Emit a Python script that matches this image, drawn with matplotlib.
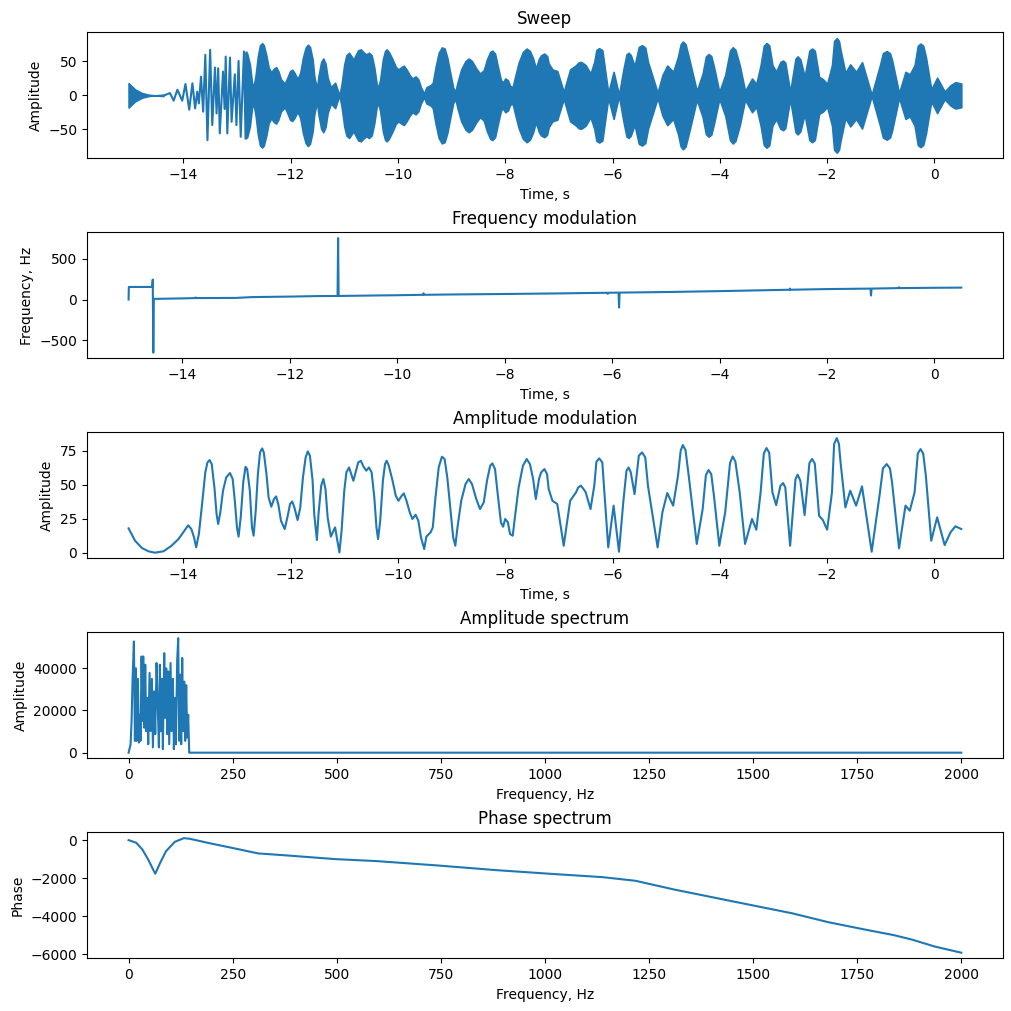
import numpy as np
import matplotlib
matplotlib.use("Agg")
import matplotlib.pyplot as plt

am_t = [-15.02, -14.90, -14.77, -14.65, -14.53, -14.37, -14.22, -14.09, -13.98, -13.91,
        -13.85, -13.80, -13.76, -13.71, -13.65, -13.59, -13.55, -13.51, -13.47, -13.42,
        -13.38, -13.35, -13.31, -13.26, -13.20, -13.13, -13.08, -13.04, -13.00, -12.97,
        -12.93, -12.88, -12.84, -12.81, -12.76, -12.72, -12.69, -12.65, -12.61, -12.57,
        -12.53, -12.50, -12.45, -12.41, -12.36, -12.31, -12.27, -12.23, -12.18, -12.11,
        -12.06, -12.01, -11.97, -11.93, -11.87, -11.82, -11.77, -11.72, -11.68, -11.64,
        -11.59, -11.56, -11.51, -11.48, -11.43, -11.39, -11.35, -11.31, -11.25, -11.20,
        -11.17, -11.14, -11.09, -11.05, -11.00, -10.96, -10.91, -10.87, -10.83, -10.78,
        -10.74, -10.69, -10.64, -10.59, -10.54, -10.49, -10.44, -10.40, -10.37, -10.33,
        -10.28, -10.24, -10.21, -10.17, -10.10, -10.04, -9.99, -9.93, -9.89, -9.84,
        -9.78, -9.73, -9.67, -9.62, -9.57, -9.51, -9.47, -9.39, -9.35, -9.30,
        -9.24, -9.18, -9.13, -9.08, -9.02, -8.97, -8.93, -8.89, -8.82, -8.74,
        -8.68, -8.62, -8.54, -8.47, -8.40, -8.34, -8.28, -8.24, -8.19, -8.14,
        -8.08, -8.04, -8.00, -7.95, -7.91, -7.86, -7.82, -7.75, -7.67, -7.60,
        -7.54, -7.48, -7.43, -7.37, -7.33, -7.27, -7.22, -7.19, -7.12, -7.03,
        -6.91, -6.79, -6.68, -6.64, -6.59, -6.54, -6.50, -6.41, -6.34, -6.30,
        -6.25, -6.19, -6.16, -6.08, -5.98, -5.88, -5.80, -5.74, -5.70, -5.66,
        -5.59, -5.51, -5.45, -5.39, -5.34, -5.16, -5.07, -4.98, -4.87, -4.78,
        -4.73, -4.69, -4.64, -4.58, -4.43, -4.32, -4.26, -4.21, -4.16, -4.11,
        -4.01, -3.90, -3.81, -3.76, -3.71, -3.63, -3.53, -3.40, -3.32, -3.24,
        -3.18, -3.13, -3.08, -3.02, -2.95, -2.87, -2.82, -2.78, -2.69, -2.59,
        -2.55, -2.50, -2.42, -2.33, -2.28, -2.23, -2.15, -2.08, -2.00, -1.91,
        -1.87, -1.82, -1.78, -1.75, -1.66, -1.57, -1.46, -1.35, -1.17, -1.02,
        -0.96, -0.89, -0.83, -0.79, -0.66, -0.54, -0.46, -0.37, -0.31, -0.26,
        -0.21, -0.16, -0.06, 0.05, 0.19, 0.30, 0.39, 0.50]
am_v = [17.9, 8.8, 3.4, 1.0, 0.0, 1.0, 5.1, 10.0, 16.2, 20.1,
        17.4, 11.3, 3.9, 13.7, 35.8, 59.1, 66.4, 68.1, 65.2, 48.0,
        28.4, 21.1, 29.7, 45.6, 55.4, 58.6, 54.2, 38.2, 18.6, 11.8,
        26.0, 52.9, 63.2, 61.5, 45.6, 18.6, 12.5, 30.9, 57.8, 73.8,
        76.7, 73.8, 57.8, 40.7, 33.8, 39.5, 41.4, 35.8, 23.5, 17.4,
        26.0, 35.8, 37.7, 33.3, 24.0, 33.3, 55.4, 70.1, 74.5, 71.3,
        52.9, 28.4, 9.3, 28.4, 49.3, 54.2, 46.8, 26.0, 11.8, 16.2,
        18.6, 11.3, 0.2, 16.2, 45.6, 59.1, 62.7, 57.8, 52.9, 60.3,
        66.4, 67.6, 63.2, 60.3, 62.7, 59.1, 40.7, 18.6, 10.0, 23.5,
        52.9, 65.2, 67.6, 64.0, 52.9, 41.9, 38.2, 41.9, 43.6, 38.2,
        29.7, 24.8, 27.9, 23.5, 11.3, 2.7, 11.8, 15.0, 18.6, 40.7,
        62.7, 70.6, 68.9, 55.4, 30.9, 11.3, 5.1, 18.6, 38.2, 50.5,
        54.2, 50.5, 39.5, 32.1, 37.0, 52.9, 64.0, 65.7, 61.5, 43.1,
        22.3, 19.1, 24.8, 22.3, 13.7, 12.5, 26.0, 48.0, 64.0, 68.9,
        65.2, 54.2, 39.5, 54.2, 59.1, 61.5, 57.8, 46.8, 38.2, 35.8,
        5.1, 38.2, 44.4, 48.0, 49.3, 46.8, 44.4, 32.1, 49.3, 66.9,
        69.4, 66.4, 49.0, 3.9, 34.6, 0.7, 37.0, 60.3, 62.7, 59.1,
        43.1, 71.3, 73.8, 70.1, 49.3, 3.9, 29.7, 43.9, 34.6, 56.6,
        75.0, 79.2, 75.5, 56.6, 6.4, 32.1, 57.0, 60.8, 57.8, 41.9,
        5.1, 29.7, 66.0, 70.8, 67.0, 44.4, 6.4, 24.8, 16.9, 44.4,
        73.0, 77.0, 73.5, 44.4, 35.0, 49.3, 51.2, 48.0, 5.1, 54.0,
        57.4, 53.0, 27.7, 66.0, 68.9, 65.5, 27.2, 24.0, 16.9, 44.4,
        80.0, 84.3, 80.0, 66.4, 33.3, 45.6, 34.6, 48.8, 0.7, 43.1,
        62.0, 65.2, 62.0, 51.7, 3.2, 34.6, 30.9, 44.4, 73.0, 76.2,
        73.0, 56.6, 8.8, 26.0, 5.6, 15.0, 19.4, 17.4]

# individual swings of the sweep where the carrier is still slow
sweep_early_t = [-14.34, -14.25, -14.18, -14.11, -14.02, -13.96, -13.89, -13.83, -13.78, -13.74,
                 -13.71, -13.67, -13.63, -13.59, -13.55, -13.50, -13.46, -13.41, -13.38, -13.35,
                 -13.32, -13.26, -13.23, -13.21, -13.18, -13.13, -13.10, -13.04, -13.01, -12.97,
                 -12.93, -12.87, -12.84, -12.82]
sweep_early_v = [0.5, 3.4, -7.8, 8.3, -7.8, 16.7, -21.0, 17.7, -19.2, 5.4,
                 -11.8, 27.6, -24.0, 59.6, -66.0, 67.0, -43.8, 40.9, -26.6, 39.9,
                 -56.0, 35.0, -20.0, 57.0, -56.0, 55.7, -38.9, 31.0, -43.8, 50.7,
                 -61.0, 64.5, -63.5, 63.0]

# instantaneous frequency
fm_t = [-15.0, -14.995, -14.56, -14.55, -14.54, -14.53, -14.0, -13.76, -13.75, -13.74,
        -13.0, -12.7, -12.0, -11.52, -11.11, -11.10, -11.09, -10.38, -10.0, -9.52,
        -9.51, -9.50, -9.0, -8.0, -7.0, -6.09, -6.08, -6.07, -5.88, -5.87,
        -5.86, -5.0, -4.0, -3.0, -2.70, -2.69, -2.68, -2.0, -1.19, -1.18,
        -1.17, -0.67, -0.66, -0.65, 0.0, 0.5]
fm_v = [0, 154, 154, 244, -650, 8, 14, 18, 26, 18,
        20, 30, 36, 42, 44, 752, 44, 50, 53, 58,
        76, 58, 62, 68, 75, 83, 70, 83, 85, -98,
        85, 92, 103, 116, 120, 134, 120, 128, 134, 49,
        134, 140, 150, 140, 144, 146]

# amplitude spectrum
spec_f = [0, 0.8, 4.8, 7.2, 9.6, 12.8, 15.2, 17.6, 19.2, 22.4,
          24.8, 27.2, 28.8, 31.2, 33.6, 35.2, 37.6, 40.0, 42.4, 44.8,
          47.2, 50.4, 52.8, 56.0, 58.4, 61.6, 64.0, 67.2, 69.6, 72.8,
          75.2, 77.6, 80.0, 82.4, 85.6, 88.0, 90.4, 92.8, 95.2, 97.6,
          100.8, 103.2, 106.4, 108.8, 111.2, 113.6, 116.8, 119.2, 121.6, 124.0,
          126.4, 128.8, 131.2, 133.6, 136.0, 138.4, 140.8, 143.2, 145.6, 148.8,
          500, 1000, 1500, 2000]
spec_a = [0, 600, 4000, 15000, 35000, 52700, 5600, 40000, 5600, 35000,
          4800, 18000, 5600, 45600, 15000, 45600, 11800, 41700, 10200, 26000,
          4000, 37800, 10200, 35000, 2500, 29000, 8800, 42500, 26000, 2500,
          41700, 10200, 35000, 1700, 47200, 16500, 40000, 8800, 38500, 4000,
          42500, 10200, 35000, 1700, 26000, 4000, 44100, 54300, 5600, 37000,
          4000, 44900, 10200, 33700, 5600, 32000, 7200, 18000, 0, 0,
          0, 0, 0, 0]

# unwrapped phase spectrum
phase_f = [0, 18.5, 33, 47, 64, 76, 90, 111, 133, 147,
           197, 251, 311, 382, 496, 596, 739, 882, 1024, 1138,
           1217, 1310, 1452, 1595, 1680, 1766, 1837, 1880, 1937, 2000]
phase_v = [0, -140, -490, -1020, -1770, -1190, -580, -90, 105, 70,
           -175, -420, -700, -810, -1000, -1105, -1330, -1580, -1790, -1950,
           -2140, -2600, -3230, -3860, -4320, -4700, -5000, -5230, -5610, -5930]

am_t = np.array(am_t)
am_v = np.array(am_v)

fig, axes = plt.subplots(5, 1, figsize=(10.11, 10.11), dpi=100)
fig.subplots_adjust(left=0.086, right=0.992, top=0.968, bottom=0.052, hspace=0.587)

# sweep: the carrier is too dense to resolve, so it is shown as the band
# between -envelope and +envelope, with the slow early swings drawn as read
ax = axes[0]
first = am_t <= -14.37
last = am_t >= -12.84
ax.fill_between(am_t[first], -am_v[first], am_v[first], color='C0', lw=1.2)
ax.plot(sweep_early_t, sweep_early_v, color='C0')
ax.fill_between(am_t[last], -am_v[last], am_v[last], color='C0', lw=1.2)
ax.set_title('Sweep')
ax.set_xlabel('Time, s')
ax.set_ylabel('Amplitude')

ax = axes[1]
ax.plot(fm_t, fm_v)
ax.set_title('Frequency modulation')
ax.set_xlabel('Time, s')
ax.set_ylabel('Frequency, Hz')

ax = axes[2]
ax.plot(am_t, am_v)
ax.set_title('Amplitude modulation')
ax.set_xlabel('Time, s')
ax.set_ylabel('Amplitude')

ax = axes[3]
ax.plot(spec_f, spec_a)
ax.set_title('Amplitude spectrum')
ax.set_xlabel('Frequency, Hz')
ax.set_ylabel('Amplitude')

ax = axes[4]
ax.plot(phase_f, phase_v)
ax.set_title('Phase spectrum')
ax.set_xlabel('Frequency, Hz')
ax.set_ylabel('Phase')

plt.savefig('out.png')
